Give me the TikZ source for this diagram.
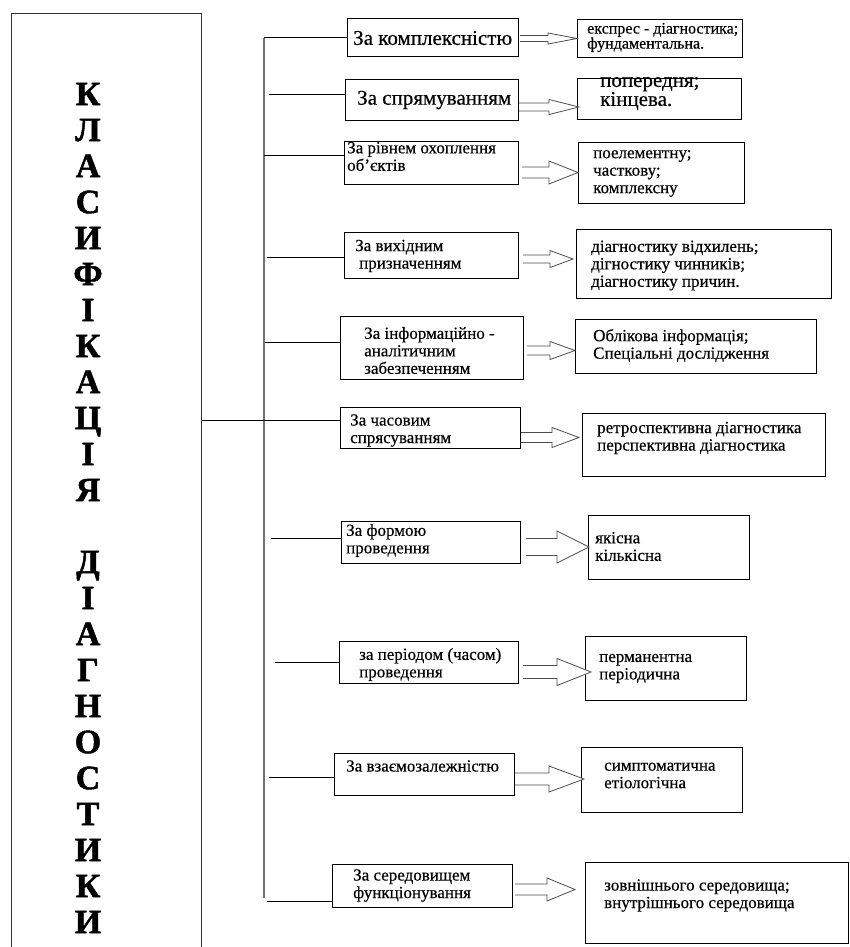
\documentclass[tikz,border=0pt]{standalone}
\usepackage{fontspec}
\setmainfont{Liberation Serif}[FakeBold=0.4, BoldFeatures={FakeBold=1.5}]
\usetikzlibrary{calc}
\tikzset{
  catbox/.style 2 args={
    draw,
    line width=1pt,
    anchor=north west,
    inner sep=0pt,
    minimum width=#1pt,
    minimum height=#2pt
  },
  boxtext/.style={
    anchor=west,
    align=left,
    inner sep=0pt,
    font=\fontsize{17}{17.5}\selectfont
  },
  bigtext/.style={
    boxtext,
    font=\fontsize{21}{19}\selectfont
  },
  smalltext/.style={
    boxtext,
    font=\fontsize{16}{15}\selectfont
  },
  clstitle/.style={
    align=center,
    inner sep=0pt,
    font=\bfseries\fontsize{34}{36}\selectfont
  },
  branch/.style={line width=1pt},
  trunk/.style={line width=1.2pt, black!55},
  fatline/.style={line width=0.8pt, black!70, fill=white}
}
% block arrow: from box, to box, centre y, start gap, tip shift,
% shaft half, head half, head length
\newcommand{\fatarrow}[8]{%
  \coordinate (fa-s) at ($(#1.east |- 0,#3)+(#4,0)$);
  \coordinate (fa-t) at ($(#2.west |- 0,#3)+(#5,0)$);
  \draw[fatline] ($(fa-s)+(0,-#6)$) -- ($(fa-t)+(-#8,-#6)$) -- ($(fa-t)+(-#8,-#7)$)
    -- (fa-t) -- ($(fa-t)+(-#8,#7)$) -- ($(fa-t)+(-#8,#6)$) -- ($(fa-s)+(0,#6)$);
}
\begin{document}
\begin{tikzpicture}[x=1pt,y=-1pt]
  \useasboundingbox (0,0) rectangle (850,947);
  % title column
  \node[catbox={190}{1000}, draw=black!80] (cls) at (11,13) {};
  \node[clstitle] (clstext) at (88,508)
    {К\\Л\\А\\С\\И\\Ф\\І\\К\\А\\Ц\\І\\Я\\[36pt]Д\\І\\А\\Г\\Н\\О\\С\\Т\\И\\К\\И};

  % classification boxes
  \node[catbox={171}{38}] (k1) at (347,18) {};
  \node[catbox={173}{41}] (k2) at (345,79) {};
  \node[catbox={174}{43}] (k3) at (344,141) {};
  \node[catbox={174}{46}] (k4) at (344,232) {};
  \node[catbox={183}{63}] (k5) at (340,316) {};
  \node[catbox={180}{41}] (k6) at (340,407) {};
  \node[catbox={179}{42}] (k7) at (341,521) {};
  \node[catbox={179}{42}] (k8) at (339,641) {};
  \node[catbox={180}{42}] (k9) at (334,753) {};
  \node[catbox={180}{43}] (k10) at (332,864) {};
  \node[bigtext] (k1t) at (353,38) {За комплексністю};
  \node[bigtext] (k2t) at (357,100) {За спрямуванням};
  \node[boxtext] (k3t) at (347,156.5) {За рівнем охоплення\\об'єктів};
  \node[boxtext] (k4t) at (355,256) {За вихідним\\\hspace*{4pt}призначенням};
  \node[boxtext] (k5t) at (364,350.5) {За інформаційно -\\аналітичним\\забезпеченням};
  \node[boxtext] (k6t) at (350,430.5) {За часовим\\спрясуванням};
  \node[boxtext] (k7t) at (346,540.5) {За формою\\проведення};
  \node[boxtext] (k8t) at (359,664.5) {за періодом (часом)\\проведення};
  \node[boxtext] (k9t) at (346,766) {За взаємозалежністю};
  \node[boxtext] (k10t) at (353,885.5) {За середовищем\\функціонування};

  % result boxes
  \node[catbox={165}{38}] (r1) at (577,19) {};
  \node[catbox={164}{41}] (r2) at (577,78) {};
  \node[catbox={166}{61}] (r3) at (578,142) {};
  \node[catbox={255}{69}] (r4) at (576,229) {};
  \node[catbox={241}{54}] (r5) at (575,319) {};
  \node[catbox={243}{63}] (r6) at (582,413) {};
  \node[catbox={161}{64}] (r7) at (588,515) {};
  \node[catbox={161}{64}] (r8) at (585,636) {};
  \node[catbox={161}{65}] (r9) at (581,747) {};
  \node[catbox={263}{81}] (r10) at (585,862) {};
  \node[smalltext] (r1t) at (587,37.5) {експрес - діагностика;\\фундаментальна.};
  \node[bigtext] (r2t) at (600,93.5) {попередня;\\кінцева.};
  \node[boxtext] (r3t) at (593,173.5) {поелементну;\\часткову;\\комплексну};
  \node[boxtext] (r4t) at (591,265.5) {діагностику відхилень;\\дігностику чинників;\\діагностику причин.};
  \node[boxtext] (r5t) at (593,345.5) {Облікова інформація;\\Спеціальні дослідження};
  \node[boxtext] (r6t) at (597,438) {ретроспективна діагностика\\перспективна діагностика};
  \node[boxtext] (r7t) at (595,546.5) {якісна\\кількісна};
  \node[boxtext] (r8t) at (599,668.5) {перманентна\\періодична};
  \node[boxtext] (r9t) at (604,775.5) {симптоматична\\етіологічна};
  \node[boxtext] (r10t) at (604,895.5) {зовнішнього середовища;\\внутрішнього середовища};

  % trunk and branches
  \coordinate (b1) at (264,38);
  \coordinate (b2) at (269,95);
  \coordinate (b3) at (264,155);
  \coordinate (b4) at (267,257);
  \coordinate (b5) at (265,342);
  \coordinate (b6) at (264,420);
  \coordinate (b7) at (271,538);
  \coordinate (b8) at (275,662);
  \coordinate (b9) at (269,777);
  \coordinate (b10) at (267,901);
  \coordinate (tend) at (264,898);
  \draw[trunk] (b1) -- (tend);
  \draw[branch] (b1) -- (k1.west |- b1);
  \draw[branch] (b2) -- (k2.west |- b2);
  \draw[branch] (b3) -- (k3.west |- b3);
  \draw[branch] (b4) -- (k4.west |- b4);
  \draw[branch] (b5) -- (k5.west |- b5);
  \draw[branch] (cls.east |- b6) -- (k6.west |- b6);
  \draw[branch] (b7) -- (k7.west |- b7);
  \draw[branch] (b8) -- (k8.west |- b8);
  \draw[branch] (b9) -- (k9.west |- b9);
  \draw[branch] (b10) -- (k10.west |- b10);

  % block arrows
  \fatarrow{k1}{r1}{38.5}{1}{0}{3}{5.5}{29}
  \fatarrow{k2}{r2}{107}{0}{2}{4}{7.5}{30}
  \fatarrow{k3}{r3}{172.5}{3}{0}{5.5}{11.5}{29}
  \fatarrow{k4}{r4}{259}{4}{-3}{4}{8.5}{23}
  \fatarrow{k5}{r5}{350.5}{3}{0}{4.5}{9}{25}
  \fatarrow{k6}{r6}{437.5}{0}{-3}{5}{10}{27}
  \fatarrow{k7}{r7}{547}{5}{1}{8.5}{16}{32}
  \fatarrow{k8}{r8}{672}{4}{6}{6.5}{13.5}{34}
  \fatarrow{k9}{r9}{779}{0}{3}{6}{13}{35}
  \fatarrow{k10}{r10}{889.5}{2}{-10}{5.5}{11.5}{28}
\end{tikzpicture}
\end{document}
